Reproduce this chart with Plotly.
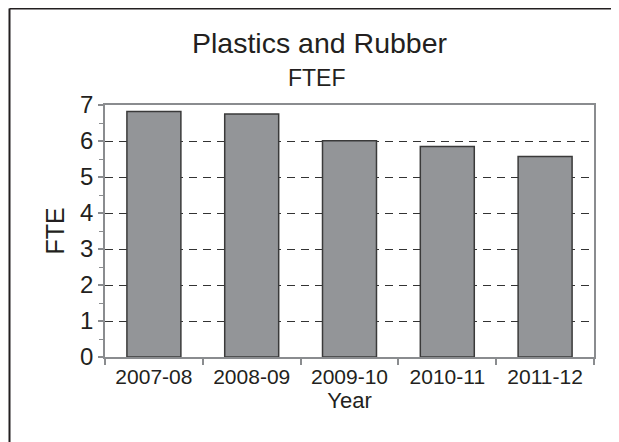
import plotly.graph_objects as go

years = ["2007-08", "2008-09", "2009-10", "2010-11", "2011-12"]
fte = [6.82, 6.75, 6.01, 5.85, 5.57]
y_ticks = [0, 1, 2, 3, 4, 5, 6, 7]

title_main = "Plastics and Rubber"
title_sub = "FTEF"
x_title = "Year"
y_title = "FTE"

W, H = 619, 442
OFF = 8  # page body margin offset
L, R, T, B = 105 - OFF, 619 - 594 + OFF, 105 - OFF, 442 - 357 + OFF
pw, ph = W - L - R, H - T - B

def px(x):
    return (x - OFF - L) / pw

def py(y):
    return (H - B - (y - OFF)) / ph

font = "Liberation Sans, Arial, sans-serif"
txt = "#231f20"
axc = "#8a8c8f"

fig = go.Figure(go.Bar(
    x=years, y=fte,
    marker=dict(color="#939598", line=dict(color="#3a3a3a", width=1.5)),
))

fig.update_layout(
    width=W, height=H,
    margin=dict(l=L, r=R, t=T, b=B),
    paper_bgcolor="white", plot_bgcolor="white",
    bargap=0.448,
    showlegend=False,
    font=dict(family=font, color=txt, size=21),
    xaxis=dict(
        type="category",
        showline=True, linecolor=axc, linewidth=1.5, mirror=True,
        ticks="outside", ticklen=6, tickcolor=axc, tickwidth=1.5,
        tickson="boundaries", showgrid=False,
        tickfont=dict(size=21, color=txt),
        title=dict(text=x_title, font=dict(size=22, color=txt), standoff=0),
    ),
    yaxis=dict(
        range=[0, 7], tickvals=y_ticks,
        showline=True, linecolor=axc, linewidth=1.5, mirror=True,
        ticks="outside", ticklen=5, tickcolor=axc, tickwidth=1.5,
        minor=dict(dtick=0.5, ticks="outside", ticklen=4, tickcolor=axc, tickwidth=1, showgrid=False),
        showgrid=True, gridcolor="#333333", griddash="8px,6px", gridwidth=1,
        zeroline=False,
        tickfont=dict(size=24, color=txt),
        title=dict(text=y_title, font=dict(size=25, color=txt), standoff=8),
    ),
    annotations=[
        dict(text=title_main, xref="paper", yref="paper", x=px(320), y=py(43),
             xanchor="center", yanchor="middle", showarrow=False,
             font=dict(size=28.5, color=txt, family=font)),
        dict(text=title_sub, xref="paper", yref="paper", x=px(317), y=py(78),
             xanchor="center", yanchor="middle", showarrow=False,
             font=dict(size=23, color=txt, family=font)),
    ],
    shapes=[
        dict(type="line", xref="paper", yref="paper", x0=px(9.5), x1=px(9.5), y0=py(8.5), y1=py(470),
             line=dict(color="#231f20", width=2)),
        dict(type="line", xref="paper", yref="paper", x0=px(9.5), x1=px(650), y0=py(8.5), y1=py(8.5),
             line=dict(color="#231f20", width=2)),
    ],
)

fig.write_html("out.html")
